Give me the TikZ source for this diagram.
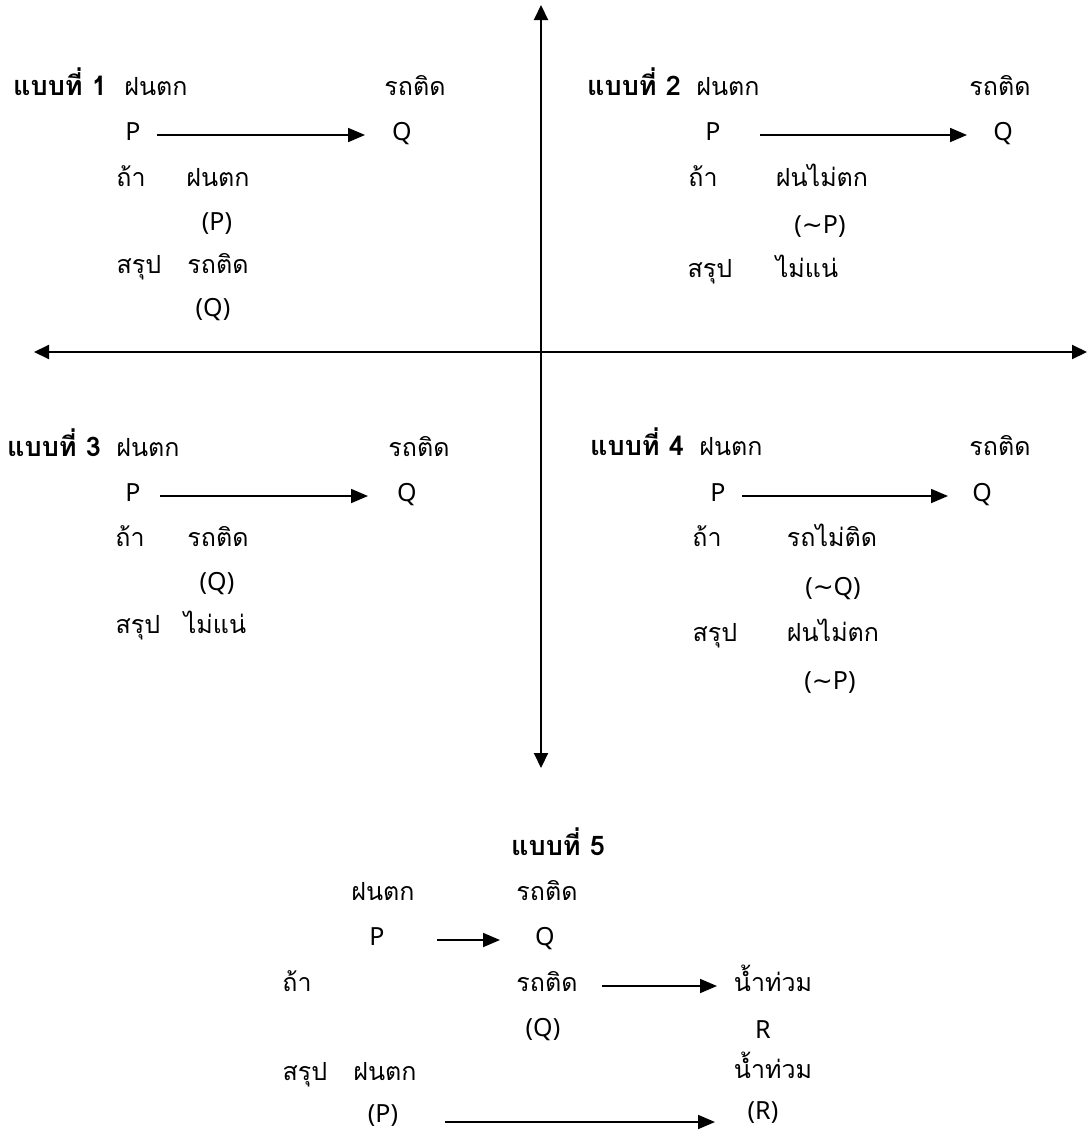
\documentclass[tikz,border=0pt]{standalone}
\usepackage{fontspec}
\setmainfont[Script=Thai]{Loma}
\newfontfamily\symfont{DejaVu Sans}
\newfontfamily\lat{Noto Sans}
\usetikzlibrary{arrows.meta,calc}
\newcommand{\tl}{{\symfont ∼}}
\tikzset{
  txt/.style={font=\fontsize{25pt}{30pt}\selectfont, inner sep=0pt, anchor=mid},
  ttl/.style={txt, font=\fontsize{27pt}{30pt}\selectfont\bfseries},
  arr/.style={-{Triangle[length=17pt,width=14pt]}, line width=1.8pt},
  axis/.style={{Triangle[length=15pt,width=14pt]}-{Triangle[length=15pt,width=14pt]}, line width=2pt},
}
\begin{document}
\begin{tikzpicture}[x=1pt,y=-1pt]
\useasboundingbox (0,0) rectangle (1087,1135);
% axes
\coordinate (top) at (541,5);
\coordinate (bot) at (541,768);
\coordinate (lft) at (34,352);
\coordinate (rgt) at (1087,352);
\draw[axis] (top) -- (bot);
\draw[axis] (lft) -- (rgt);

% Quadrant 1
\node[ttl] (a1) at (60,93) {แบบที่ 1};
\node[txt] (a1p) at (156,93) {ฝนตก};
\node[txt] (a1q) at (415,93) {รถติด};
\node[txt] (a1P) at (133,138) {\lat P};
\node[txt] (a1Q) at (402,138) {\lat Q};
\draw[arr] ($(a1P.mid)+(24,-3)$) -- ($(a1Q.mid)+(-37,-3)$);
\node[txt] (a1if) at (131,184) {ถ้า};
\node[txt] (a1ifv) at (218,184) {ฝนตก};
\node[txt] (a1ifs) at (217,228) {\lat (P)};
\node[txt] (a1th) at (139,271) {สรุป};
\node[txt] (a1thv) at (218,271) {รถติด};
\node[txt] (a1ths) at (213,314) {\lat (Q)};

% Quadrant 2
\node[ttl] (a2) at (634,93) {แบบที่ 2};
\node[txt] (a2p) at (728,93) {ฝนตก};
\node[txt] (a2q) at (1000,93) {รถติด};
\node[txt] (a2P) at (713,138) {\lat P};
\node[txt] (a2Q) at (1003,138) {\lat Q};
\draw[arr] ($(a2P.mid)+(47,-3)$) -- ($(a2Q.mid)+(-36,-3)$);
\node[txt] (a2if) at (703,184) {ถ้า};
\node[txt] (a2ifv) at (822,184) {ฝนไม่ตก};
\node[txt] (a2ifs) at (820,231) {\lat (\tl P)};
\node[txt] (a2th) at (710,275) {สรุป};
\node[txt] (a2thv) at (807,275) {ไม่แน่};

% Quadrant 3
\node[ttl] (a3) at (54,454) {แบบที่ 3};
\node[txt] (a3p) at (148,454) {ฝนตก};
\node[txt] (a3q) at (419,454) {รถติด};
\node[txt] (a3P) at (133,499) {\lat P};
\node[txt] (a3Q) at (407,499) {\lat Q};
\draw[arr] ($(a3P.mid)+(27,-3)$) -- ($(a3Q.mid)+(-39,-3)$);
\node[txt] (a3if) at (130,544) {ถ้า};
\node[txt] (a3ifv) at (218,544) {รถติด};
\node[txt] (a3ifs) at (217,588) {\lat (Q)};
\node[txt] (a3th) at (138,631) {สรุป};
\node[txt] (a3thv) at (215,631) {ไม่แน่};

% Quadrant 4
\node[ttl] (a4) at (637,453) {แบบที่ 4};
\node[txt] (a4p) at (731,453) {ฝนตก};
\node[txt] (a4q) at (1000,453) {รถติด};
\node[txt] (a4P) at (718,499) {\lat P};
\node[txt] (a4Q) at (982,499) {\lat Q};
\draw[arr] ($(a4P.mid)+(24,-3)$) -- ($(a4Q.mid)+(-34,-3)$);
\node[txt] (a4if) at (707,544) {ถ้า};
\node[txt] (a4ifv) at (832,544) {รถไม่ติด};
\node[txt] (a4ifs) at (833,593) {\lat (\tl Q)};
\node[txt] (a4th) at (715,639) {สรุป};
\node[txt] (a4thv) at (833,639) {ฝนไม่ตก};
\node[txt] (a4ths) at (830,687) {\lat (\tl P)};

% Pattern 5
\node[ttl] (a5) at (558,853) {แบบที่ 5};
\node[txt] (a5p) at (383,898) {ฝนตก};
\node[txt] (a5q) at (547,898) {รถติด};
\node[txt] (a5P) at (377,943) {\lat P};
\node[txt] (a5Q) at (545,943) {\lat Q};
\draw[arr] ($(a5P.mid)+(60,-3)$) -- ($(a5Q.mid)+(-45,-3)$);
\node[txt] (a5if) at (297,989) {ถ้า};
\node[txt] (a5q2) at (547,989) {รถติด};
\node[txt] (a5r) at (773,989) {น้ำท่วม};
\draw[arr] ($(a5q2.mid)+(55,-3)$) -- ($(a5q2.mid -| a5r.mid)+(-56,-3)$);
\node[txt] (a5qs) at (543,1034) {\lat (Q)};
\node[txt] (a5R) at (763,1036) {\lat R};
\node[txt] (a5th) at (305,1078) {สรุป};
\node[txt] (a5thv) at (385,1078) {ฝนตก};
\node[txt] (a5r2) at (773,1076) {น้ำท่วม};
\node[txt] (a5ps) at (383,1120) {\lat (P)};
\node[txt] (a5Rs) at (763,1117) {\lat (R)};
\draw[arr] ($(a5ps.mid)+(62,2)$) -- ($(a5ps.mid -| a5Rs.mid)+(-48,2)$);
\end{tikzpicture}
\end{document}
